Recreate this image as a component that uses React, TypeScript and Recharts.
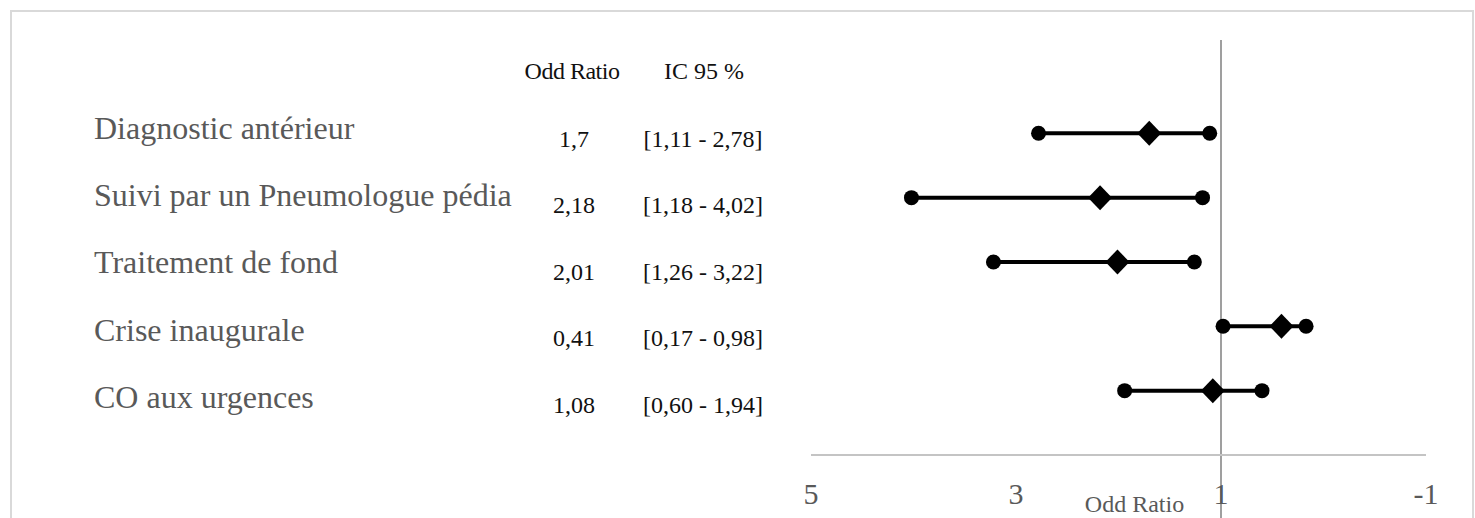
import React from "react";
import {
  ScatterChart,
  Scatter,
  XAxis,
  YAxis,
  ReferenceLine,
  Label,
} from "recharts";

const categories = [
  "Diagnostic antérieur",
  "Suivi par un Pneumologue pédia",
  "Traitement de fond",
  "Crise inaugurale",
  "CO aux urgences",
];
const oddRatios = [1.7, 2.18, 2.01, 0.41, 1.08];
const ciLow = [1.11, 1.18, 1.26, 0.17, 0.6];
const ciHigh = [2.78, 4.02, 3.22, 0.98, 1.94];
const xTicks = [5, 3, 1, -1];
const rowTicks = [0, 1, 2, 3, 4, 5];

const FONT = '"Liberation Serif", "Times New Roman", serif';
const fr = (v: number, d?: number) =>
  (d === undefined ? String(v) : v.toFixed(d)).replace(".", ",");

const orData = oddRatios.map((v, i) => ({ x: v, y: i + 1 }));
const ciData = categories.map((_, i) => [
  { x: ciHigh[i], y: i + 1 },
  { x: ciLow[i], y: i + 1 },
]);

const Dot = (p: any) => <circle cx={p.cx} cy={p.cy} r={7.5} fill="#000" />;

const Diamond = (p: any) => (
  <polygon
    points={`${p.cx},${p.cy - 12.5} ${p.cx + 12},${p.cy} ${p.cx},${p.cy + 12.5} ${p.cx - 12},${p.cy}`}
    fill="#000"
  />
);

// table on the left: row 0 = headers, rows 1..5 = categories
const RowTick = ({ y, payload }: any) => {
  const i = payload.value;
  if (i === 0) {
    return (
      <g fontFamily={FONT} fontSize={24} fill="#111">
        <text x={572} y={y} dy={10} textAnchor="middle" letterSpacing={-0.5}>
          Odd Ratio
        </text>
        <text x={704} y={y} dy={10} textAnchor="middle">
          IC 95 %
        </text>
      </g>
    );
  }
  const k = i - 1;
  return (
    <g fontFamily={FONT}>
      <text x={94} y={y} dy={5.7 + k * 2.9} fontSize={32} fill="#595959">
        {categories[k]}
      </text>
      <text x={574} y={y} dy={13.7 + k * 2.15} fontSize={24} fill="#111" textAnchor="middle">
        {fr(oddRatios[k])}
      </text>
      <text x={703} y={y} dy={13.7 + k * 2.15} fontSize={24} fill="#111" textAnchor="middle">
        {`[${fr(ciLow[k], 2)} - ${fr(ciHigh[k], 2)}]`}
      </text>
    </g>
  );
};

const XTick = ({ x, y, payload }: any) => (
  <text x={x} y={y} dy={49} textAnchor="middle" fontFamily={FONT} fontSize={30} fill="#595959">
    {payload.value}
  </text>
);

const App = () => {
  return (
    <div
      style={{
        position: "absolute",
        left: 0,
        top: 0,
        width: 1475,
        height: 518,
        overflow: "hidden",
        background: "#fff",
      }}
    >
      <div
        style={{
          position: "absolute",
          left: 10,
          top: 10,
          width: 1460,
          height: 700,
          border: "2px solid #d9d9d9",
        }}
      />
      <div style={{ position: "absolute", left: 0, top: 0 }}>
        <ScatterChart
          width={1475}
          height={518}
          margin={{ top: 40, right: 49, bottom: 0, left: 801 }}
        >
          <XAxis
            type="number"
            dataKey="x"
            domain={[-1, 5]}
            reversed
            ticks={xTicks}
            interval={0}
            height={63}
            tickSize={0}
            tickMargin={0}
            tickLine={false}
            axisLine={{ stroke: "#c4c4c4", strokeWidth: 2 }}
            tick={<XTick />}
          >
            <Label
              content={({ viewBox }: any) => (
                <text
                  x={viewBox.x + viewBox.width / 2 + 16}
                  y={viewBox.y + 57}
                  textAnchor="middle"
                  fontFamily={FONT}
                  fontSize={24}
                  fill="#595959"
                >
                  Odd Ratio
                </text>
              )}
            />
          </XAxis>
          <YAxis
            type="number"
            dataKey="y"
            domain={[-0.45, 6]}
            reversed
            allowDataOverflow
            ticks={rowTicks}
            interval={0}
            width={10}
            tickSize={0}
            tickMargin={0}
            axisLine={false}
            tickLine={false}
            tick={<RowTick />}
          />
          <ReferenceLine
            segment={[
              { x: 1, y: -0.45 },
              { x: 1, y: 7 },
            ]}
            ifOverflow="visible"
            stroke="#7f7f7f"
            strokeWidth={1.5}
          />
          {ciData.map((d, i) => (
            <Scatter
              key={i}
              data={d}
              line={{ stroke: "#000", strokeWidth: 4 }}
              lineType="joint"
              shape={<Dot />}
              isAnimationActive={false}
            />
          ))}
          <Scatter data={orData} shape={<Diamond />} isAnimationActive={false} />
        </ScatterChart>
      </div>
    </div>
  );
};

export default App;
